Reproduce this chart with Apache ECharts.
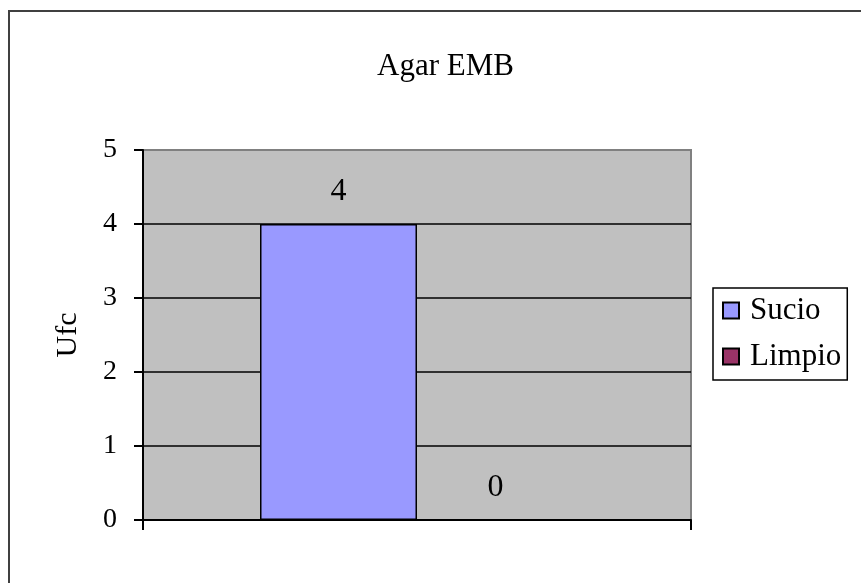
<!DOCTYPE html>
<html>
<head>
<meta charset="utf-8">
<script src="https://cdn.jsdelivr.net/npm/echarts@6/dist/echarts.min.js"></script>
<style>
  html, body { margin: 0; padding: 0; background: #fff; }
  #chart { width: 861px; height: 583px; }
</style>
</head>
<body>
<div id="chart"></div>
<script>
// datos del grafico
var categorias = [''];
var sucio = [4];
var limpio = [0];
var serieNombres = ['Sucio', 'Limpio'];

var fuente = 'Liberation Serif';

var option = {
    backgroundColor: '#fff',
    animation: false,
    title: {
        text: 'Agar EMB',
        left: 372,
        top: 46,
        textStyle: { fontFamily: fuente, fontSize: 31, fontWeight: 'normal', color: '#000' }
    },
    legend: {
        data: serieNombres,
        orient: 'vertical',
        left: 713,
        top: 288,
        icon: 'rect',
        itemWidth: 16,
        itemHeight: 16,
        itemGap: 15,
        padding: [7, 6, 8, 9],
        borderColor: '#000',
        borderWidth: 1.5,
        textStyle: { fontFamily: fuente, fontSize: 31, color: '#000', padding: [0, 0, 0, 6] }
    },
    grid: {
        left: 143,
        right: 170,
        top: 150,
        bottom: 63,
        show: true,
        backgroundColor: '#c0c0c0',
        borderColor: '#808080',
        borderWidth: 2
    },
    xAxis: {
        type: 'category',
        data: categorias,
        axisLine: { lineStyle: { color: '#000', width: 2 } },
        axisTick: { show: true, length: 10, lineStyle: { color: '#000', width: 2 } },
        axisLabel: { show: false },
        splitLine: { show: false }
    },
    yAxis: {
        type: 'value',
        min: 0,
        max: 5,
        interval: 1,
        name: 'Ufc',
        nameLocation: 'middle',
        nameRotate: 90,
        nameGap: 60,
        nameTextStyle: { fontFamily: fuente, fontSize: 30, color: '#000' },
        axisLine: { show: true, lineStyle: { color: '#000', width: 2 } },
        axisTick: { show: true, length: 9, lineStyle: { color: '#000', width: 2 } },
        axisLabel: { margin: 26, fontFamily: fuente, fontSize: 28, color: '#000' },
        splitLine: { show: true, showMaxLine: false, lineStyle: { color: '#000', width: 1.5 } }
    },
    series: [
        {
            name: 'Sucio',
            type: 'bar',
            data: sucio,
            barWidth: 157,
            barGap: '0%',
            itemStyle: { color: '#9999ff', borderColor: '#000', borderWidth: 1.5 },
            label: { show: true, position: 'top', distance: 16, fontFamily: fuente, fontSize: 32, color: '#000' }
        },
        {
            name: 'Limpio',
            type: 'bar',
            data: limpio,
            barWidth: 157,
            barGap: '0%',
            itemStyle: { color: '#993366', borderColor: '#000', borderWidth: 1.5 },
            label: { show: true, position: 'top', distance: 16, fontFamily: fuente, fontSize: 32, color: '#000' }
        }
    ],
    graphic: [
        {
            type: 'rect',
            silent: true,
            shape: { x: 9, y: 11, width: 1000, height: 1000 },
            style: { fill: 'none', stroke: '#404040', lineWidth: 2 }
        }
    ]
};

echarts.init(document.getElementById('chart')).setOption(option);
</script>
</body>
</html>
